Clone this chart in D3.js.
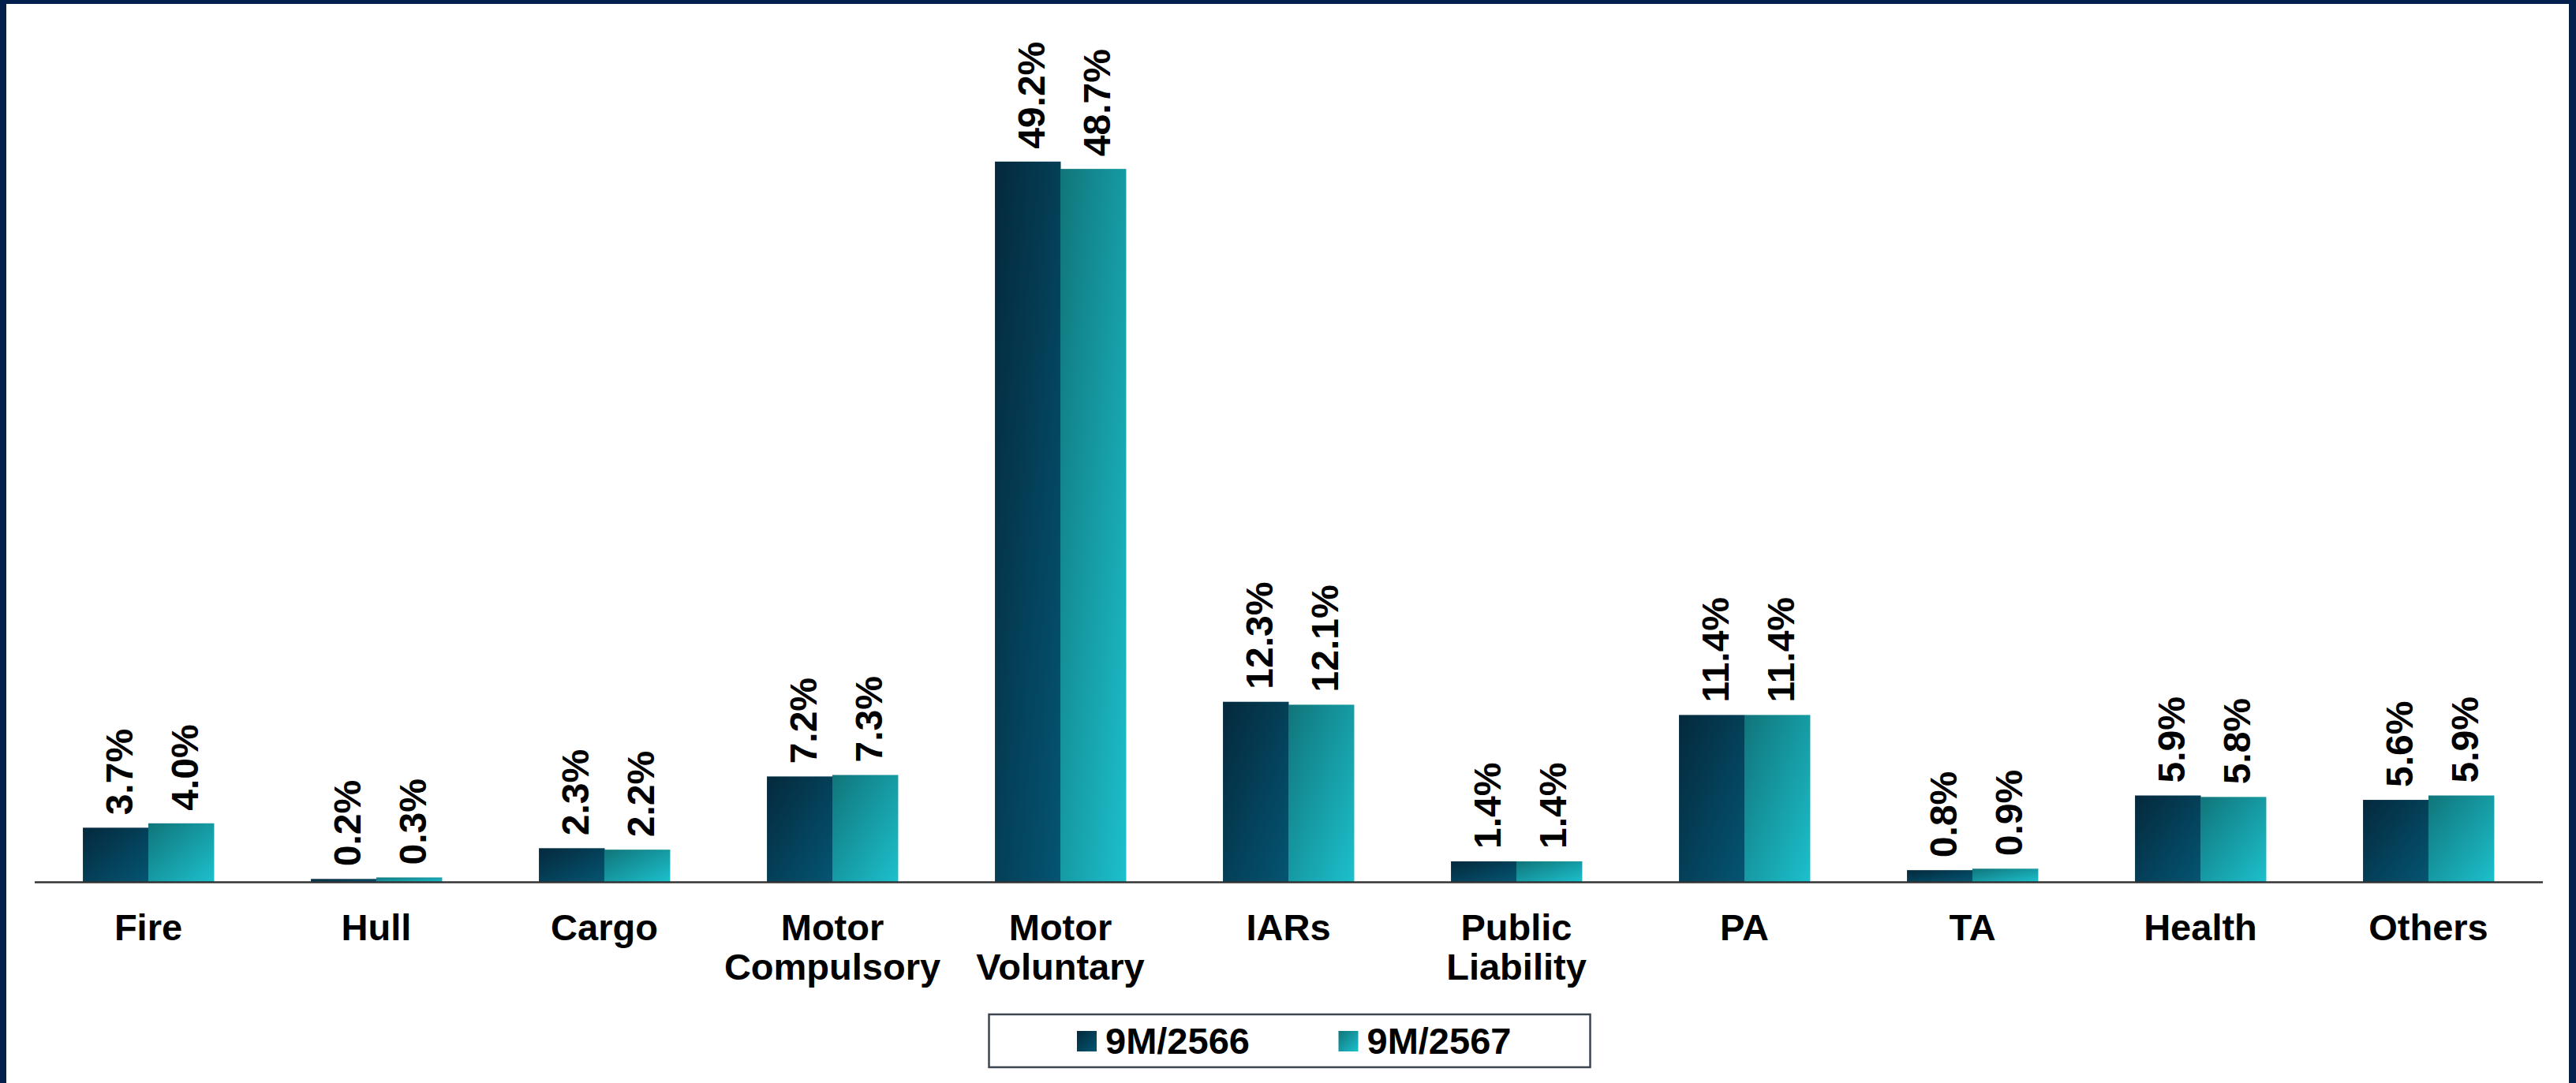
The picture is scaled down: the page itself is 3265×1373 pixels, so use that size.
<!DOCTYPE html>
<html>
<head>
<meta charset="utf-8">
<script src="https://cdn.jsdelivr.net/npm/d3@7"></script>
<style>
  body { margin: 0; overflow: hidden; background: #fff; }
  text { font-family: "Liberation Sans", Arial, sans-serif; font-weight: bold; fill: #000; }
</style>
</head>
<body>
<div id="chart"></div>
<script>
var categories = ['Fire', 'Hull', 'Cargo', 'Motor Compulsory', 'Motor Voluntary', 'IARs',
                  'Public Liability', 'PA', 'TA', 'Health', 'Others'];
var catLines = [['Fire'], ['Hull'], ['Cargo'], ['Motor', 'Compulsory'], ['Motor', 'Voluntary'], ['IARs'],
                ['Public', 'Liability'], ['PA'], ['TA'], ['Health'], ['Others']];
var seriesNames = ['9M/2566', '9M/2567'];
var y2566 = [3.7, 0.2, 2.3, 7.2, 49.2, 12.3, 1.4, 11.4, 0.8, 5.9, 5.6];
var y2567 = [4.0, 0.3, 2.2, 7.3, 48.7, 12.1, 1.4, 11.4, 0.9, 5.8, 5.9];

var W = 3265, H = 1373;
var base = 1118, pxPer = 18.56;
var pad = 0.426;

var svg = d3.select('#chart').append('svg')
  .attr('width', W).attr('height', H);

// frame
svg.append('rect').attr('width', W).attr('height', H).attr('fill', '#021f4e');
svg.append('rect').attr('x', 8).attr('y', 5).attr('width', W - 8 - 9).attr('height', H - 5).attr('fill', '#fff');

var defs = svg.append('defs');
var grads = [['#04293c', '#045573'], ['#10757a', '#1cc0cd']];
grads.forEach(function(g, i) {
  var lg = defs.append('linearGradient').attr('id', 'g' + i)
    .attr('x1', 0).attr('y1', 0).attr('x2', 1).attr('y2', 1);
  lg.append('stop').attr('offset', '0%').attr('stop-color', g[0]);
  lg.append('stop').attr('offset', '100%').attr('stop-color', g[1]);
});

var x = d3.scaleBand()
  .domain(categories)
  .range([43.5, 3222.5])
  .paddingInner(pad)
  .paddingOuter(pad / 2);
var xs = d3.scaleBand().domain(seriesNames).range([0, x.bandwidth()]);
var y = d3.scaleLinear().domain([0, 55]).range([base, base - 55 * pxPer]);

var rows = categories.map(function(c, i) {
  return { cat: c, vals: [y2566[i], y2567[i]] };
});

var groups = svg.selectAll('g.cat')
  .data(rows)
  .enter().append('g')
  .attr('class', 'cat')
  .attr('transform', function(d) { return 'translate(' + x(d.cat) + ',0)'; });

groups.selectAll('rect')
  .data(function(d) { return d.vals; })
  .enter().append('rect')
  .attr('x', function(d, i) { return xs(seriesNames[i]); })
  .attr('width', xs.bandwidth() + 0.5)
  .attr('y', function(d) { return y(d); })
  .attr('height', function(d) { return y(0) - y(d); })
  .attr('fill', function(d, i) { return 'url(#g' + i + ')'; });

groups.selectAll('text.val')
  .data(function(d) { return d.vals; })
  .enter().append('text')
  .attr('class', 'val')
  .attr('transform', function(d, i) {
    return 'translate(' + (xs(seriesNames[i]) + xs.bandwidth() / 2 + 5) + ',' + (y(d) - 16) + ') rotate(-90)';
  })
  .attr('dy', '0.35em')
  .style('font-size', '48px')
  .text(function(d) { return d.toFixed(1) + '%'; });

// baseline axis
var axis = svg.append('g')
  .attr('transform', 'translate(0,' + base + ')')
  .call(d3.axisBottom(x).tickSize(0).tickFormat(''));
axis.select('.domain').attr('stroke', '#333').attr('stroke-width', 2.5);

// category labels
var lab = svg.selectAll('text.cat')
  .data(categories)
  .enter().append('text')
  .attr('class', 'cat')
  .attr('text-anchor', 'middle')
  .attr('x', function(d) { return x(d) + x.bandwidth() / 2; })
  .attr('y', 1192)
  .style('font-size', '47px');
lab.each(function(d, i) {
  var t = d3.select(this);
  catLines[i].forEach(function(l, j) {
    t.append('tspan').attr('x', x(d) + x.bandwidth() / 2).attr('dy', j ? 50 : 0).text(l);
  });
});

// legend
var leg = svg.append('g');
leg.append('rect')
  .attr('x', 1253.5).attr('y', 1286).attr('width', 762).attr('height', 67)
  .attr('fill', '#fff').attr('stroke', '#3c4650').attr('stroke-width', 2.5);
var legX = [1365, 1696.5];
seriesNames.forEach(function(s, i) {
  leg.append('rect').attr('x', legX[i]).attr('y', 1307).attr('width', 25).attr('height', 26)
    .attr('fill', 'url(#g' + i + ')');
  leg.append('text').attr('x', legX[i] + 36).attr('y', 1336)
    .style('font-size', '47px').text(s);
});
</script>
</body>
</html>
